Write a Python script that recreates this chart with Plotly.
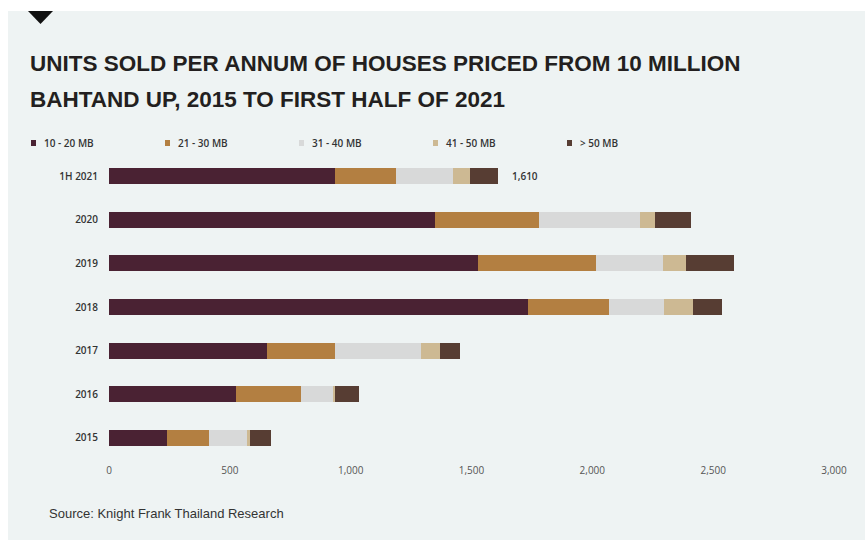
import plotly.graph_objects as go

W, H = 865, 540

# Categories top-to-bottom and units sold by price band
periods = ["1H 2021", "2020", "2019", "2018", "2017", "2016", "2015"]
band_names = ["10 - 20 MB", "21 - 30 MB", "31 - 40 MB", "41 - 50 MB", "> 50 MB"]
units_10_20 = [936, 1349, 1527, 1734, 654, 525, 242]
units_21_30 = [252, 430, 488, 335, 281, 269, 170]
units_31_40 = [236, 418, 277, 228, 356, 133, 162]
units_41_50 = [70, 62, 95, 120, 79, 8, 8]
units_over_50 = [116, 149, 199, 120, 83, 100, 87]
band_colors = ["#4a2233", "#b37f41", "#d8d9d9", "#cdb993", "#573d33"]

x_ticks = [0, 500, 1000, 1500, 2000, 2500, 3000]
x_tick_text = ["0", "500", "1,000", "1,500", "2,000", "2,500", "3,000"]

series = [units_10_20, units_21_30, units_31_40, units_41_50, units_over_50]


def px(x):
    return x / W


def py(y):
    return 1 - y / H


fig = go.Figure()
for name, vals, col in zip(band_names, series, band_colors):
    fig.add_trace(go.Bar(
        y=periods, x=vals, name=name, orientation="h",
        marker=dict(color=col, line=dict(width=0)),
        showlegend=False,
    ))

# Total label for the first half of 2021
total_1h = sum(s[0] for s in series)
fig.add_annotation(
    x=total_1h, y=periods[0], xref="x", yref="y",
    text=f"{total_1h:,}", showarrow=False, xanchor="left", xshift=12,
    font=dict(family="Open Sans", size=10, color="#333333", weight=600),
)

shapes = [
    # light panel
    dict(type="rect", xref="paper", yref="paper", x0=px(8), x1=1, y0=0, y1=py(11),
         fillcolor="#eef3f3", line=dict(width=0), layer="below"),
    # header marker triangle
    dict(type="path", xref="paper", yref="paper",
         path=f"M {px(28)} {py(11)} L {px(53)} {py(11)} L {px(40.5)} {py(24)} Z",
         fillcolor="#111111", line=dict(width=0)),
]

# Legend: small squares with band labels
legend_x = [31, 165, 299, 433, 567]
for lx, name, col in zip(legend_x, band_names, band_colors):
    shapes.append(dict(type="rect", xref="paper", yref="paper",
                       x0=px(lx), x1=px(lx + 5), y0=py(146), y1=py(140),
                       fillcolor=col, line=dict(width=0)))
    fig.add_annotation(
        x=px(lx + 11), y=py(143), xref="paper", yref="paper",
        text=name, showarrow=False, xanchor="left", yanchor="middle",
        font=dict(family="Open Sans", size=10, color="#333333", weight=600),
    )

title_font = dict(family="Liberation Sans, Arial", size=22.5, color="#231f20")
fig.add_annotation(x=px(28), y=py(64), xref="paper", yref="paper",
                   text="<b>UNITS SOLD PER ANNUM OF HOUSES PRICED FROM 10 MILLION</b>",
                   showarrow=False, xanchor="left", yanchor="middle", font=title_font)
fig.add_annotation(x=px(28), y=py(99), xref="paper", yref="paper",
                   text="<b>BAHTAND UP, 2015 TO FIRST HALF OF 2021</b>",
                   showarrow=False, xanchor="left", yanchor="middle", font=title_font)

fig.add_annotation(x=px(47), y=py(513), xref="paper", yref="paper",
                   text="Source: Knight Frank Thailand Research",
                   showarrow=False, xanchor="left", yanchor="middle",
                   font=dict(family="Liberation Sans, Arial", size=13, color="#333333"))

fig.update_layout(
    width=W, height=H, autosize=False,
    margin=dict(l=0, r=0, t=0, b=0, autoexpand=False),
    paper_bgcolor="#ffffff", plot_bgcolor="rgba(0,0,0,0)",
    barmode="stack", bargap=0.63,
    shapes=shapes,
    xaxis=dict(
        domain=[px(109), px(834)], range=[0, 3000], automargin=False,
        tickvals=x_ticks, ticktext=x_tick_text,
        showgrid=False, zeroline=False, showline=False,
        ticks="", ticklabelstandoff=3,
        tickfont=dict(family="Open Sans", size=10, color="#555555"),
    ),
    yaxis=dict(
        domain=[py(459.8), py(154.2)], automargin=False,
        categoryorder="array", categoryarray=periods,
        range=[6.5, -0.5],
        showgrid=False, zeroline=False, showline=False,
        ticks="", ticklabelstandoff=10,
        tickfont=dict(family="Open Sans", size=10, color="#333333", weight=600),
    ),
)

fig.write_html("out.html")
